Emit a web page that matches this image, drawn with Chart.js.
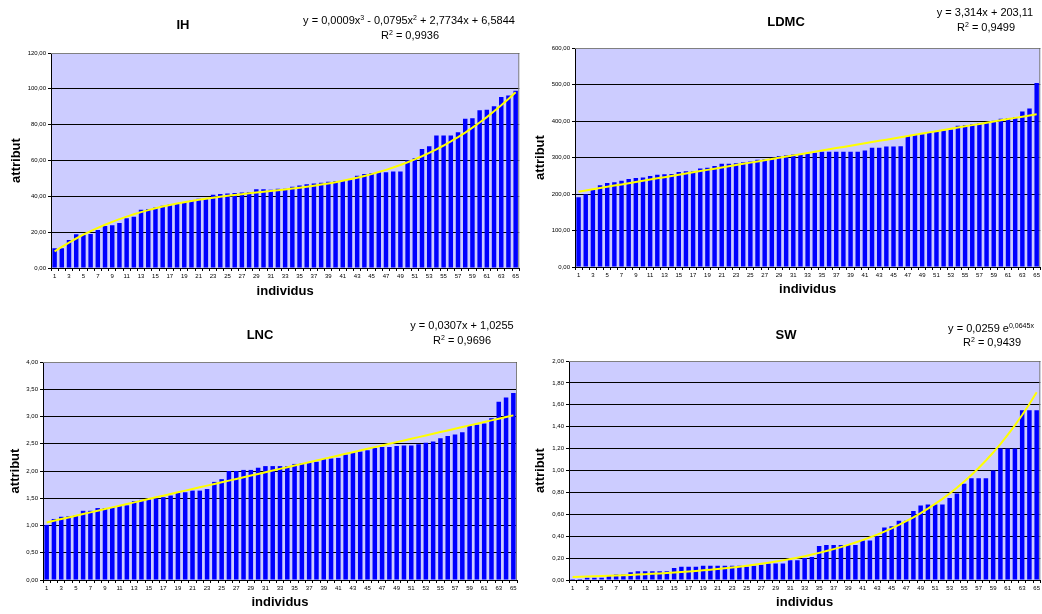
<!DOCTYPE html>
<html>
<head>
<meta charset="utf-8">
<script src="https://cdn.jsdelivr.net/npm/chart.js@4/dist/chart.umd.min.js"></script>
<style>
  body { margin: 0; background: #fff; width: 1042px; height: 614px; overflow: hidden; position: relative; font-family: Arial, "Liberation Sans", sans-serif; }
  .panel { position: absolute; }
  .txt { position: absolute; transform: translate(-50%, -50%); white-space: nowrap; color: #000; }
  .ttl { font-weight: bold; font-size: 13px; }
  .eq { font-size: 11px; }
  .eq sup { font-size: 7px; vertical-align: 4px; line-height: 0; }
</style>
</head>
<body>
<div class="panel" style="left:0;top:0;width:521px;height:300px"><canvas id="ihChart"></canvas></div>
<div class="panel" style="left:521px;top:0;width:521px;height:300px"><canvas id="ldmcChart"></canvas></div>
<div class="panel" style="left:0;top:307px;width:521px;height:307px"><canvas id="lncChart"></canvas></div>
<div class="panel" style="left:521px;top:307px;width:521px;height:307px"><canvas id="swChart"></canvas></div>

<div class="txt ttl" style="left:183px;top:24px">IH</div>
<div class="txt eq" style="left:409px;top:20px">y = 0,0009x<sup>3</sup> - 0,0795x<sup>2</sup> + 2,7734x + 6,5844</div>
<div class="txt eq" style="left:410px;top:35px">R<sup>2</sup> = 0,9936</div>

<div class="txt ttl" style="left:786px;top:21px">LDMC</div>
<div class="txt eq" style="left:985px;top:12px">y = 3,314x + 203,11</div>
<div class="txt eq" style="left:986px;top:27px">R<sup>2</sup> = 0,9499</div>

<div class="txt ttl" style="left:260px;top:334px">LNC</div>
<div class="txt eq" style="left:462px;top:325px">y = 0,0307x + 1,0255</div>
<div class="txt eq" style="left:462px;top:340px">R<sup>2</sup> = 0,9696</div>

<div class="txt ttl" style="left:786px;top:334px">SW</div>
<div class="txt eq" style="left:991px;top:328px">y = 0,0259 e<sup>0,0645x</sup></div>
<div class="txt eq" style="left:992px;top:342px">R<sup>2</sup> = 0,9439</div>

<script>
// individus 1..65
const individus = Array.from({ length: 65 }, (_, i) => String(i + 1));

const ihValues = [11.0, 11.0, 15.6, 18.8, 18.4, 19.0, 21.2, 23.4, 23.8, 25.1,
  27.7, 28.6, 32.5, 33.0, 33.8, 34.8, 35.5, 35.9, 36.8, 37.5,
  38.7, 38.7, 40.9, 41.3, 41.6, 41.8, 42.2, 42.4, 43.9, 43.9,
  43.7, 44.2, 44.2, 45.4, 46.1, 46.8, 47.2, 47.6, 48.1, 48.5,
  48.7, 49.4, 51.5, 52.4, 53.0, 53.5, 53.5, 53.9, 53.9, 60.2,
  61.3, 66.4, 68.0, 74.0, 74.0, 74.0, 75.7, 83.3, 83.6, 88.1,
  88.3, 90.3, 95.5, 96.3, 98.9];

const ldmcValues = [191, 199, 211, 224, 230, 232, 236, 241, 244, 245,
  249, 253, 254, 255, 260, 262, 262, 270, 272, 277,
  283, 283, 284, 287, 289, 294, 295, 299, 304, 306,
  308, 309, 311, 313, 316, 316, 316, 316, 316, 316,
  319, 327, 327, 330, 330, 331, 359, 362, 364, 368,
  371, 374, 377, 387, 389, 391, 394, 396, 401, 406,
  408, 410, 426, 434, 504];

const lncValues = [1.01, 1.12, 1.16, 1.17, 1.19, 1.27, 1.27, 1.32, 1.32, 1.34,
  1.36, 1.37, 1.45, 1.47, 1.48, 1.50, 1.52, 1.55, 1.60, 1.61,
  1.64, 1.64, 1.67, 1.80, 1.85, 2.00, 2.00, 2.02, 2.02, 2.06,
  2.09, 2.09, 2.09, 2.09, 2.13, 2.14, 2.16, 2.17, 2.22, 2.23,
  2.24, 2.30, 2.34, 2.36, 2.38, 2.42, 2.44, 2.44, 2.46, 2.47,
  2.47, 2.49, 2.52, 2.54, 2.60, 2.64, 2.67, 2.71, 2.83, 2.85,
  2.87, 2.97, 3.27, 3.35, 3.43];

const swValues = [0.01, 0.01, 0.02, 0.02, 0.02, 0.04, 0.05, 0.05, 0.07, 0.08,
  0.08, 0.08, 0.08, 0.08, 0.11, 0.12, 0.12, 0.12, 0.13, 0.13,
  0.13, 0.13, 0.13, 0.13, 0.12, 0.13, 0.14, 0.15, 0.15, 0.15,
  0.18, 0.18, 0.20, 0.21, 0.31, 0.32, 0.32, 0.32, 0.32, 0.32,
  0.36, 0.36, 0.40, 0.48, 0.49, 0.54, 0.54, 0.63, 0.68, 0.69,
  0.69, 0.69, 0.75, 0.79, 0.88, 0.93, 0.93, 0.93, 1.00, 1.20,
  1.20, 1.20, 1.55, 1.55, 1.55];

// trend line coefficients as printed on each chart
const ihTrendCoef = [0.0009, -0.0795, 2.7734, 6.5844];   // cubic
const ldmcTrendCoef = [3.314, 203.11];                   // linear
const lncTrendCoef = [0.0307, 1.0255];                   // linear
const swTrendCoef = [0.0259, 0.0645];                    // exponential

const ihTrend = individus.map((_, i) => { const x = i + 1; return ihTrendCoef[0] * x * x * x + ihTrendCoef[1] * x * x + ihTrendCoef[2] * x + ihTrendCoef[3]; });
const ldmcTrend = individus.map((_, i) => ldmcTrendCoef[0] * (i + 1) + ldmcTrendCoef[1]);
const lncTrend = individus.map((_, i) => lncTrendCoef[0] * (i + 1) + lncTrendCoef[1]);
const swTrend = individus.map((_, i) => swTrendCoef[0] * Math.exp(swTrendCoef[1] * (i + 1)));

// plot background + grey frame
const plotFrame = {
  id: 'plotFrame',
  beforeDraw(chart) {
    const { ctx, chartArea: a } = chart;
    ctx.save();
    ctx.fillStyle = '#ccccff';
    ctx.fillRect(a.left, a.top, a.right - a.left, a.bottom - a.top);
    ctx.restore();
  },
  afterDraw(chart) {
    const { ctx, chartArea: a } = chart;
    ctx.save();
    ctx.strokeStyle = '#808080';
    ctx.lineWidth = 1;
    ctx.beginPath();
    ctx.moveTo(a.left, a.top + 0.5);
    ctx.lineTo(a.right - 0.5, a.top + 0.5);
    ctx.lineTo(a.right - 0.5, a.bottom);
    ctx.stroke();
    ctx.restore();
  }
};

function makeChart(id, values, trend, yMax, yStep, cfg) {
  const ctx = document.getElementById(id).getContext('2d');
  return new Chart(ctx, {
    type: 'bar',
    data: {
      labels: individus,
      datasets: [
        {
          type: 'line',
          data: trend,
          borderColor: '#ffff00',
          borderWidth: 2,
          pointRadius: 0,
          tension: 0,
          order: 0
        },
        {
          data: values,
          backgroundColor: '#0000ff',
          barPercentage: 0.62,
          categoryPercentage: 1,
          order: 1
        }
      ]
    },
    options: {
      responsive: false,
      animation: false,
      layout: { padding: cfg.padding },
      plugins: { legend: { display: false }, tooltip: { enabled: false } },
      scales: {
        x: {
          afterFit: s => { s.height = cfg.xHeight; },
          grid: { drawOnChartArea: false, tickLength: 3, color: '#000', offset: true },
          border: { color: '#000' },
          ticks: {
            autoSkip: false, maxRotation: 0, padding: 2,
            font: { size: 6, family: 'Arial, "Liberation Sans"' }, color: '#000',
            callback: (v, i) => (i % 2 === 0 ? individus[i] : '')
          },
          title: {
            display: true, text: 'individus', padding: 0,
            font: { size: 13, weight: 'bold', family: 'Arial, "Liberation Sans"' }, color: '#000'
          }
        },
        y: {
          min: 0, max: yMax,
          afterFit: s => { s.width = cfg.yWidth; },
          grid: { color: '#000', tickLength: 3 },
          border: { color: '#000' },
          ticks: {
            stepSize: yStep, padding: 2,
            font: { size: 6, family: 'Arial, "Liberation Sans"' }, color: '#000',
            callback: v => v.toFixed(2).replace('.', ',')
          },
          title: {
            display: true, text: 'attribut', padding: 0,
            font: { size: 13, weight: 'bold', family: 'Arial, "Liberation Sans"' }, color: '#000'
          }
        }
      }
    },
    plugins: [plotFrame]
  });
}

function sizeCanvas(id, w, h) {
  const c = document.getElementById(id);
  c.width = w; c.height = h;
  c.style.width = w + 'px'; c.style.height = h + 'px';
}

sizeCanvas('ihChart', 521, 300);
sizeCanvas('ldmcChart', 521, 300);
sizeCanvas('lncChart', 521, 307);
sizeCanvas('swChart', 521, 307);

makeChart('ihChart', ihValues, ihTrend, 120, 20,
  { padding: { left: 9, right: 1, top: 53, bottom: 1 }, yWidth: 42, xHeight: 31 });
makeChart('ldmcChart', ldmcValues, ldmcTrend, 600, 100,
  { padding: { left: 12, right: 0, top: 48, bottom: 3 }, yWidth: 42, xHeight: 30 });
makeChart('lncChart', lncValues, lncTrend, 4, 0.5,
  { padding: { left: 8, right: 4, top: 55, bottom: 4 }, yWidth: 35, xHeight: 30 });
makeChart('swChart', swValues, swTrend, 2, 0.2,
  { padding: { left: 12, right: 0, top: 54, bottom: 4 }, yWidth: 36, xHeight: 30 });
</script>
</body>
</html>
